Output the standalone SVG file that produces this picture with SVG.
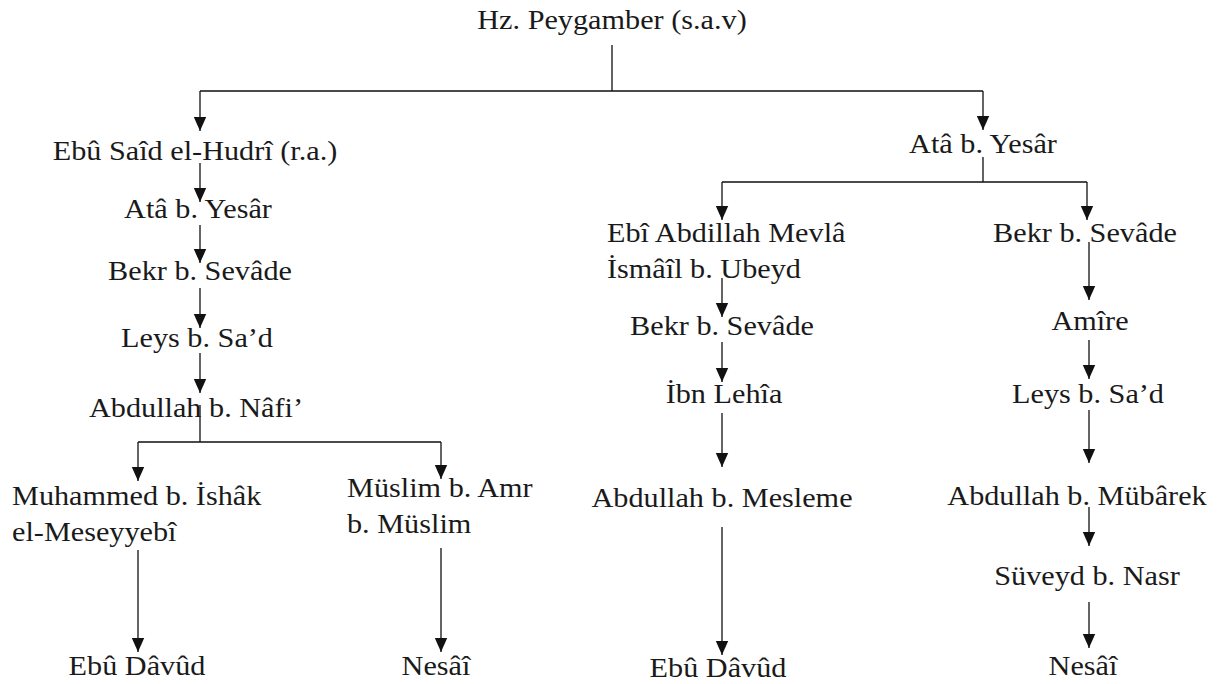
<svg xmlns="http://www.w3.org/2000/svg" width="1225" height="684" viewBox="0 0 1225 684">
  <style>
    .lbl { font-family: "Liberation Serif", "Times New Roman", serif; font-size: 27px; fill: #1a1a1a; }
    .mid { text-anchor: middle; }
    .wire { fill: none; stroke: #111; stroke-width: 1.3; }
    .arr { marker-end: url(#head); }
  </style>
  <defs>
    <marker id="head" viewBox="0 -8 15 16" refX="14" refY="0" markerWidth="15" markerHeight="16" markerUnits="userSpaceOnUse" orient="auto">
      <path d="M0,-6.2 L14,0 L0,6.2 Z" fill="#111"/>
    </marker>
  </defs>
  <rect width="1225" height="684" fill="#fff"/>

  <g id="connectors">
    <!-- root split -->
    <path class="wire" d="M612,45 V91 M200,91 H983"/>
    <path class="wire arr" d="M200,91 V131"/>
    <path class="wire arr" d="M983,91 V130"/>
    <!-- left chain -->
    <path class="wire arr" d="M200,163 V202"/>
    <path class="wire arr" d="M200,225 V263"/>
    <path class="wire arr" d="M200,288 V328"/>
    <path class="wire arr" d="M200,353 V393"/>
    <path class="wire" d="M200,405 V442 M138,442 H441"/>
    <path class="wire arr" d="M138,442 V481"/>
    <path class="wire arr" d="M441,442 V479"/>
    <path class="wire arr" d="M138,550 V652"/>
    <path class="wire arr" d="M441,548 V652"/>
    <!-- right split -->
    <path class="wire" d="M983,157 V182 M722,182 H1087"/>
    <path class="wire arr" d="M722,182 V220"/>
    <path class="wire arr" d="M1087,182 V220"/>
    <!-- middle chain -->
    <path class="wire arr" d="M722,278 V317"/>
    <path class="wire arr" d="M722,342 V382"/>
    <path class="wire arr" d="M722,413 V467"/>
    <path class="wire arr" d="M722,527 V655"/>
    <!-- right chain -->
    <path class="wire arr" d="M1089,242 V300"/>
    <path class="wire arr" d="M1089,340 V379"/>
    <path class="wire arr" d="M1089,410 V463"/>
    <path class="wire arr" d="M1089,507 V546"/>
    <path class="wire arr" d="M1089,602 V648"/>
  </g>

  <g id="n-root"><text class="lbl mid" transform="translate(612 29) scale(1.12 1)">Hz. Peygamber (s.a.v)</text></g>

  <g id="n-ebusaid"><text class="lbl mid" transform="translate(195 160) scale(1.12 1)">Ebû Saîd el-Hudrî (r.a.)</text></g>
  <g id="n-ata-l"><text class="lbl mid" transform="translate(198 218) scale(1.12 1)">Atâ b. Yesâr</text></g>
  <g id="n-bekr-l"><text class="lbl mid" transform="translate(200 280) scale(1.12 1)">Bekr b. Sevâde</text></g>
  <g id="n-leys-l"><text class="lbl mid" transform="translate(197 347) scale(1.12 1)">Leys b. Sa’d</text></g>
  <g id="n-nafi"><text class="lbl mid" transform="translate(196 417) scale(1.12 1)">Abdullah b. Nâfi’</text></g>
  <g id="n-muhammed"><text class="lbl" transform="translate(12 505) scale(1.12 1)"><tspan x="0">Muhammed b. İshâk</tspan><tspan x="0" dy="36">el-Meseyyebî</tspan></text></g>
  <g id="n-muslim"><text class="lbl" transform="translate(347 497) scale(1.12 1)"><tspan x="0">Müslim b. Amr</tspan><tspan x="0" dy="36">b. Müslim</tspan></text></g>
  <g id="n-ebudavud-l"><text class="lbl mid" transform="translate(137 675) scale(1.12 1)">Ebû Dâvûd</text></g>
  <g id="n-nesai-l"><text class="lbl mid" transform="translate(436 675) scale(1.12 1)">Nesâî</text></g>

  <g id="n-ata-r"><text class="lbl mid" transform="translate(983 153) scale(1.12 1)">Atâ b. Yesâr</text></g>
  <g id="n-ebi"><text class="lbl" transform="translate(607 242) scale(1.12 1)"><tspan x="0">Ebî Abdillah Mevlâ</tspan><tspan x="0" dy="36">İsmâîl b. Ubeyd</tspan></text></g>
  <g id="n-bekr-m"><text class="lbl mid" transform="translate(722 335) scale(1.12 1)">Bekr b. Sevâde</text></g>
  <g id="n-lehia"><text class="lbl mid" transform="translate(724 403) scale(1.12 1)">İbn Lehîa</text></g>
  <g id="n-mesleme"><text class="lbl mid" transform="translate(722 507) scale(1.12 1)">Abdullah b. Mesleme</text></g>
  <g id="n-ebudavud-m"><text class="lbl mid" transform="translate(718 677) scale(1.12 1)">Ebû Dâvûd</text></g>

  <g id="n-bekr-r"><text class="lbl mid" transform="translate(1085 242) scale(1.12 1)">Bekr b. Sevâde</text></g>
  <g id="n-amire"><text class="lbl mid" transform="translate(1090 330) scale(1.12 1)">Amîre</text></g>
  <g id="n-leys-r"><text class="lbl mid" transform="translate(1088 403) scale(1.12 1)">Leys b. Sa’d</text></g>
  <g id="n-mubarek"><text class="lbl mid" transform="translate(1077 505) scale(1.12 1)">Abdullah b. Mübârek</text></g>
  <g id="n-suveyd"><text class="lbl mid" transform="translate(1087 585) scale(1.12 1)">Süveyd b. Nasr</text></g>
  <g id="n-nesai-r"><text class="lbl mid" transform="translate(1083 675) scale(1.12 1)">Nesâî</text></g>
</svg>
